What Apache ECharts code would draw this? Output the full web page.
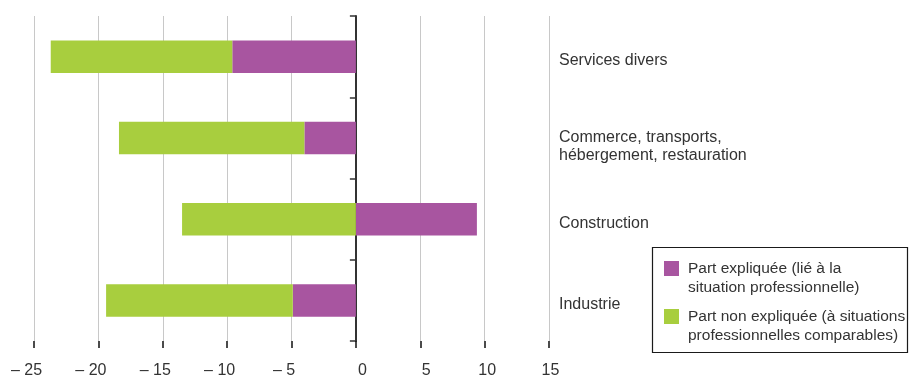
<!DOCTYPE html>
<html>
<head>
<meta charset="utf-8">
<script src="https://cdn.jsdelivr.net/npm/echarts@6/dist/echarts.min.js"></script>
<style>
  html, body { margin: 0; padding: 0; background: #fff; }
  #chart { width: 909px; height: 379px; }
</style>
</head>
<body>
<div id="chart"></div>
<script>
// Sectors, bottom to top as drawn on the category axis
const categories = ['Industrie', 'Construction', 'Commerce, transports,\nhébergement, restauration', 'Services divers'];
// Gap components (points), one value per sector
const explained = [-4.9, 9.4, -4.0, -9.6];
const unexplained = [-14.5, -13.5, -14.4, -14.1];
const seriesNames = ['Part expliquée (lié à la\nsituation professionnelle)', 'Part non expliquée (à situations\nprofessionnelles comparables)'];
const colors = ['#a855a0', '#a8ce3e'];
// Value axis tick labels from -25 to 15
const tickValues = [-25, -20, -15, -10, -5, 0, 5, 10, 15];
const tickLabels = ['– 25', '– 20', '– 15', '– 10', '– 5', '0', '5', '10', '15'];

const FONT = 'Liberation Sans';
const FS = 16;
const chart = echarts.init(document.getElementById('chart'), null, { renderer: 'canvas' });

// Legend box drawn as graphic so each swatch sits on the first text line
const legendX = 652, legendY = 247;
const legendGraphics = [
  { type: 'rect', shape: { x: legendX + 0.5, y: legendY + 0.5, width: 255, height: 105 },
    style: { fill: '#fff', stroke: '#1a1a1a', lineWidth: 1.2 }, z: 10 }
];
seriesNames.forEach((name, i) => {
  const top = legendY + 14 + i * 48;
  legendGraphics.push({ type: 'rect', shape: { x: 664, y: top, width: 15, height: 15 },
    style: { fill: colors[i] }, z: 11 });
  legendGraphics.push({ type: 'text', x: 688, y: top - 2,
    style: { text: name, fill: '#333', font: '15.5px "' + FONT + '"', lineHeight: 19,
             textAlign: 'left', textVerticalAlign: 'top' }, z: 11 });
});

// Label nudges along the value axis
function tickStyle(v) {
  if (v < 0) return 'neg';
  if (v === 0) return 'zero';
  if (v === 5) return 'five';
  if (v === 10) return 'ten';
  return 'fifteen';
}
const base = { fontSize: FS, color: '#333', fontFamily: FONT };
const LH = 18.5;

chart.setOption({
  backgroundColor: '#fff',
  animation: false,
  textStyle: { fontFamily: FONT },
  grid: { left: 34, right: 360, top: 16, bottom: 37, containLabel: false },
  xAxis: {
    type: 'value', min: -25, max: 15, interval: 5,
    axisLine: { onZero: false, lineStyle: { color: '#111', width: 1.5 } },
    axisTick: { show: true, length: 7, lineStyle: { color: '#111', width: 1.5 } },
    splitLine: { show: true, lineStyle: { color: '#c8c8c8', width: 1 } },
    axisLabel: {
      margin: 22, fontSize: FS, color: '#333', fontFamily: FONT,
      formatter: v => '{' + tickStyle(v) + '|' + tickLabels[tickValues.indexOf(v)] + '}',
      rich: {
        neg: Object.assign({ padding: [0, 15, 0, 0] }, base),
        zero: Object.assign({ padding: [0, 0, 0, 13] }, base),
        five: Object.assign({ padding: [0, 0, 0, 12] }, base),
        ten: Object.assign({ padding: [0, 0, 0, 5] }, base),
        fifteen: Object.assign({ padding: [0, 0, 0, 3] }, base)
      }
    }
  },
  yAxis: [
    {
      type: 'category', data: categories, position: 'left',
      axisLine: { onZero: true, lineStyle: { color: '#333', width: 2 } },
      axisTick: { show: true, length: 6, lineStyle: { color: '#333', width: 1.5 } },
      axisLabel: { show: false },
      splitLine: { show: false }
    },
    {
      type: 'category', position: 'right', data: categories,
      axisLine: { show: false, onZero: false },
      axisTick: { show: false },
      splitLine: { show: false },
      axisLabel: {
        show: true, align: 'left', margin: 10,
        // a thin spacer line above each label lowers it slightly below the band centre
        formatter: v => (v.indexOf('\n') >= 0 ? '{g2|\u00a0}' : '{g1|\u00a0}') + '\n{t|' + v + '}',
        rich: {
          g1: { fontSize: 1, height: 8, lineHeight: 8 },
          g2: { fontSize: 1, height: 17, lineHeight: 17 },
          t: Object.assign({ lineHeight: LH }, base)
        }
      }
    }
  ],
  series: [
    { name: seriesNames[0], type: 'bar', stack: 'gap', yAxisIndex: 0, data: explained,
      barWidth: '40%', itemStyle: { color: colors[0] } },
    { name: seriesNames[1], type: 'bar', stack: 'gap', yAxisIndex: 0, data: unexplained,
      barWidth: '40%', itemStyle: { color: colors[1] } }
  ],
  graphic: legendGraphics
});
</script>
</body>
</html>
